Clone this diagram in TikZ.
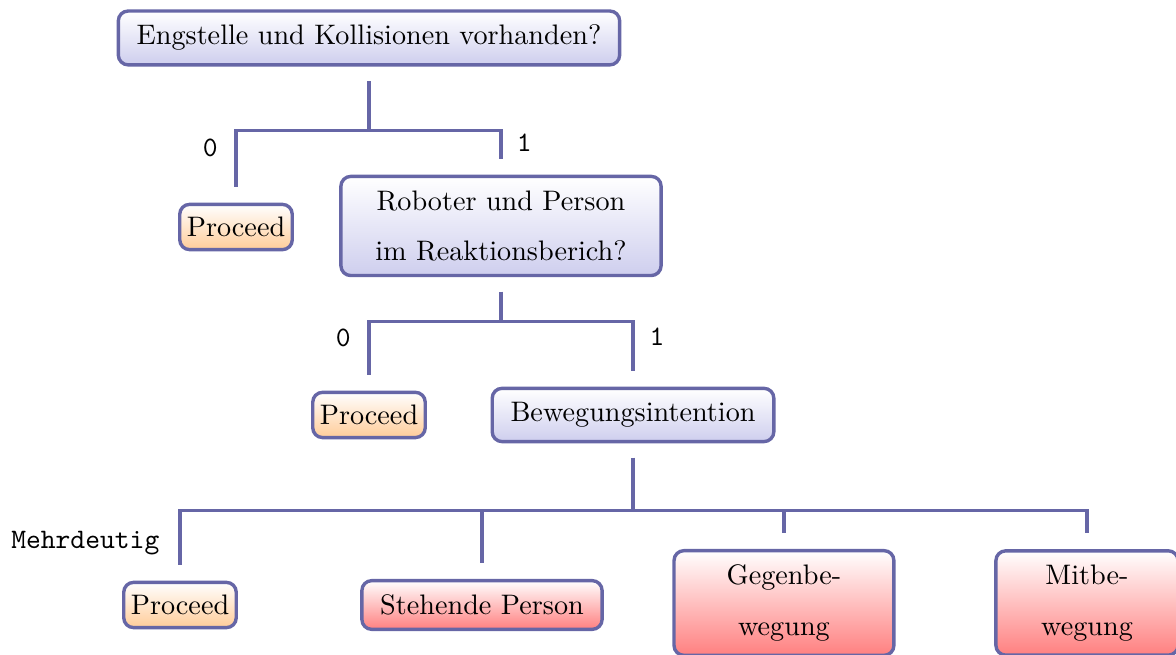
\documentclass[tikz,border=0pt]{standalone}
\usepackage{tikz}

\definecolor{edgecol}{RGB}{102,102,166}
\definecolor{askcol}{RGB}{206,206,238}

\tikzset{
	nodebox/.style={draw=edgecol, line width=1.2pt, rounded corners=3.5pt, align=center, inner xsep=6.5pt, inner ysep=5pt},
	ask/.style={nodebox, top color=white, bottom color=askcol},
	proceed/.style={nodebox, top color=white, bottom color=orange!40, inner xsep=2.5pt, inner ysep=4.5pt},
	casebox/.style={nodebox, top color=white, bottom color=red!50},
	branch/.style={draw=edgecol, line width=1.2pt},
}

\begin{document}
\begin{tikzpicture}
		\useasboundingbox (0,0) rectangle (14.654,8.162);
%		\draw[help lines] (0,0) grid (14,8);
		\path (4.598,7.689) node(eng) [ask] {Engstelle und Kollisionen vorhanden?};
		\path (2.941,5.333) node(pro1) [proceed] {Proceed};
		\path (6.243,5.346) node(rob) [ask, minimum width=3.99cm] {Roboter und Person\\[6pt]im Reaktionsberich?};
		\path (4.598,2.991) node(pro2) [proceed] {Proceed};
		\path (7.888,2.991) node(bew) [ask] {Bewegungsintention};
		\path (2.243,0.623) node(pro3) [proceed] {Proceed};
		\path (6.006,0.623) node(steh) [casebox] {Stehende Person};
		\path (9.769,0.648) node(gegen) [casebox, minimum width=2.74cm] {Gegenbe-\\[6pt]wegung};
		\path (13.545,0.648) node(mit) [casebox, minimum width=2.27cm] {Mitbe-\\[6pt]wegung};

		% first question
		\path (eng.south) +(0,-0.18) coordinate (eng_out);
		\path (eng_out) +(0,-0.62) coordinate (eng_fork);
		\draw[branch] (eng_out) -- (eng_fork);
		\draw[branch] (eng_fork) -| ([yshift=2mm]pro1.north);
		\draw[branch] (eng_fork) -| ([yshift=2mm]rob.north);
		\path (eng_fork -| pro1) +(-0.32,-0.21) node(no1) {\texttt{0}};
		\path (eng_fork -| rob) +(0.29,-0.15) node(yes1) {\texttt{1}};

		% second question
		\path (rob.south) +(0,-0.18) coordinate (rob_out);
		\path (rob_out) +(0,-0.37) coordinate (rob_fork);
		\draw[branch] (rob_out) -- (rob_fork);
		\draw[branch] (rob_fork) -| ([yshift=2mm]pro2.north);
		\draw[branch] (rob_fork) -| ([yshift=2mm]bew.north);
		\path (rob_fork -| pro2) +(-0.32,-0.21) node(no2) {\texttt{0}};
		\path (rob_fork -| bew) +(0.30,-0.19) node(yes2) {\texttt{1}};

		% intention
		\path (bew.south) +(0,-0.18) coordinate (bew_out);
		\path (bew_out) +(0,-0.66) coordinate (bew_fork);
		\draw[branch] (bew_out) -- (bew_fork);
		\draw[branch] (bew_fork) -| ([yshift=2mm]pro3.north);
		\draw[branch] (bew_fork) -| ([yshift=2mm]steh.north);
		\draw[branch] (bew_fork) -| ([yshift=2mm]gegen.north);
		\draw[branch] (bew_fork) -| ([yshift=2mm]mit.north);
		\path (bew_fork -| pro3) +(-1.18,-0.41) node(vague) {\texttt{Mehrdeutig}};
	\end{tikzpicture}
\end{document}
